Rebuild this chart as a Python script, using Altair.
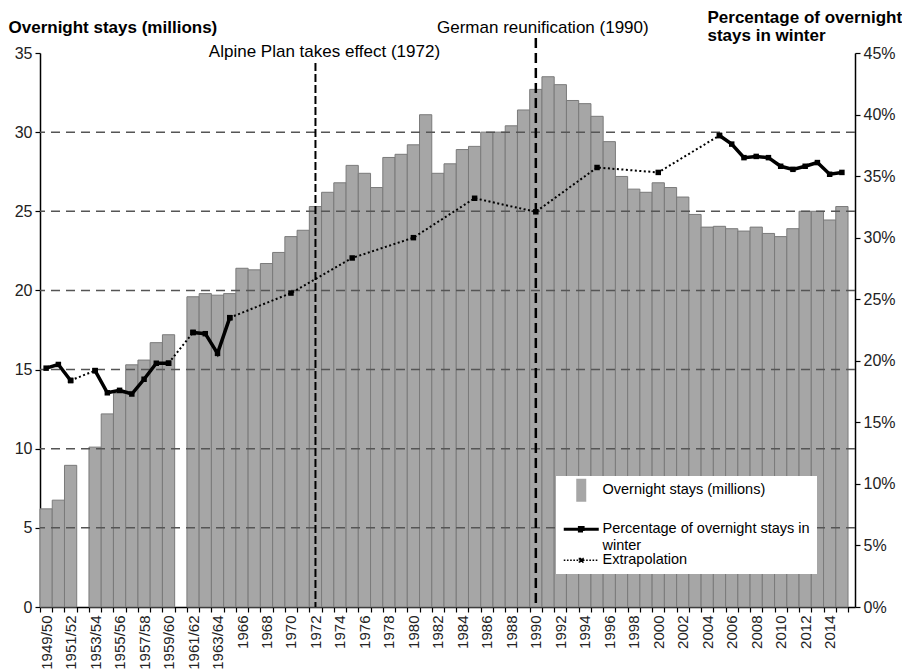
import altair as alt
import pandas as pd

FONT = "Liberation Sans"

# ---------------- data ----------------
categories = ["1949/50", "1950/51", "1951/52", "1952/53", "1953/54", "1954/55",
              "1955/56", "1956/57", "1957/58", "1958/59", "1959/60", "1960/61",
              "1961/62", "1962/63", "1963/64", "1965"] + [str(y) for y in range(1966, 2016)]

stays = [6.2, 6.75, 8.95, None, 10.1, 12.2, 13.5, 15.3, 15.6, 16.7, 17.2, None,
         19.6, 19.8, 19.7, 19.8,
         21.4, 21.3, 21.7, 22.4, 23.4, 23.8, 25.3, 26.2, 26.8, 27.9,
         27.4, 26.5, 28.4, 28.6, 29.2, 31.1, 27.4, 28.0, 28.9, 29.1,
         30.0, 30.0, 30.4, 31.4, 32.7, 33.5, 33.0, 32.0, 31.8, 31.0,
         29.4, 27.2, 26.4, 26.2, 26.8, 26.5, 25.9, 24.8, 24.0, 24.05,
         23.9, 23.75, 24.0, 23.6, 23.4, 23.9, 25.0, 25.0, 24.45, 25.3]

winter_cats = ["1949/50", "1950/51", "1951/52",
               "1953/54", "1954/55", "1955/56", "1956/57", "1957/58", "1958/59", "1959/60",
               "1961/62", "1962/63", "1963/64", "1965",
               "2005", "2006", "2007", "2008", "2009", "2010", "2011", "2012", "2013", "2014", "2015"]
winter_pct = [19.4, 19.7, 18.4,
              19.2, 17.4, 17.6, 17.3, 18.5, 19.8, 19.8,
              22.3, 22.2, 20.6, 23.5,
              38.3, 37.6, 36.5, 36.6, 36.5, 35.8, 35.55, 35.8, 36.1, 35.15, 35.3]
winter_seg = [1, 1, 1, 2, 2, 2, 2, 2, 2, 2, 3, 3, 3, 3,
              4, 4, 4, 4, 4, 4, 4, 4, 4, 4, 4]

extrap_cats = ["1951/52", "1953/54", "1959/60", "1961/62", "1965", "1970", "1975",
               "1980", "1985", "1990", "1995", "2000", "2005"]
extrap_pct = [18.4, 19.2, 19.8, 22.3, 23.5, 25.5, 28.35, 30.0, 33.2, 32.1, 35.7, 35.3, 38.3]
extrap_seg = [1, 1, 2, 2, 3, 3, 3, 3, 3, 3, 3, 3, 3]

grid_values = [5, 10, 15, 20, 25, 30]
left_ticks = [0, 5, 10, 15, 20, 25, 30, 35]
right_ticks = [0, 5, 10, 15, 20, 25, 30, 35, 40, 45]

legend_labels = ["Overnight stays (millions)",
                 "Percentage of overnight stays in winter",
                 "Extrapolation"]

event_cats = ["1972", "1990"]
event_labels = ["Alpine Plan takes effect (1972)", "German reunification (1990)"]

# ---------------- frames ----------------
order = {c: i for i, c in enumerate(categories)}
bars_df = pd.DataFrame({"cat": categories, "stays": stays}).dropna()

winter_df = pd.DataFrame({"cat": winter_cats, "pct": winter_pct, "seg": winter_seg})
winter_df["idx"] = winter_df["cat"].map(order)
winter_df["series"] = legend_labels[1]
extrap_df = pd.DataFrame({"cat": extrap_cats, "pct": extrap_pct, "seg": extrap_seg})
extrap_df["idx"] = extrap_df["cat"].map(order)

shown = categories[::2]
shown_js = "[" + ",".join("'" + s + "'" for s in shown) + "]"

# ---------------- scales / axes ----------------
x_scale = alt.Scale(domain=categories, paddingInner=0, paddingOuter=0.285, align=0)
x_axis = alt.Axis(title=None, labelAngle=-90, labelFontSize=15, labelColor="#222",
                  labelPadding=3, tickBand="extent", tickSize=5, tickColor="black",
                  tickWidth=1.2, domainColor="black", domainWidth=1.5,
                  labelExpr="indexof(" + shown_js + ", datum.value) >= 0 ? datum.label : ''")

yl_scale = alt.Scale(domain=[0, 35], nice=False)
yl_axis = alt.Axis(values=left_ticks, grid=False, tickSize=5, tickColor="black",
                   tickWidth=1.2, domainColor="black", domainWidth=1.5,
                   labelFontSize=16, labelColor="#222", labelPadding=3,
                   title="Overnight stays (millions)", titleAngle=0, titleAlign="left",
                   titleBaseline="alphabetic", titleX=-32, titleY=-21,
                   titleFontSize=17, titleFontWeight="bold", titleColor="black")

yr_scale = alt.Scale(domain=[0, 45], nice=False)
yr_axis = alt.Axis(orient="right", values=right_ticks, labelExpr="datum.value + '%'",
                   grid=False, tickSize=5, tickColor="black", tickWidth=1.2,
                   domainColor="black", domainWidth=1.5,
                   labelFontSize=16, labelColor="#222", labelPadding=3,
                   title=["Percentage of overnight", "stays in winter"], titleAngle=0,
                   titleAlign="left", titleBaseline="alphabetic", titleX=-148, titleY=-31,
                   titleLineHeight=18, titleFontSize=17, titleFontWeight="bold",
                   titleColor="black")

BAR_PATH = "M0,-0.66V0.66"
LINE_PATH = "M-1,0H1M-0.1,-0.1H0.1V0.1H-0.1Z"
is_bar = "datum.value === 'Overnight stays (millions)'"
is_ext = "datum.value === 'Extrapolation'"

legend = alt.Legend(
    title=None, orient="none", legendX=516, legendY=423,
    fillColor="white", padding=7, labelFont=FONT, labelFontSize=14.5,
    labelColor="black", labelOffset=14, symbolOffset=11, symbolSize=1225,
    rowPadding=-8, labelLimit=400, symbolOpacity=1,
    labelExpr="datum.label === 'Percentage of overnight stays in winter' ? "
              "['Percentage of overnight stays in', 'winter'] : datum.label",
    symbolType={"expr": is_bar + " ? '" + BAR_PATH + "' : '" + LINE_PATH + "'"},
    symbolStrokeWidth={"expr": is_bar + " ? 10 : (" + is_ext + " ? 1.6 : 3.2)"},
    symbolDash={"expr": is_ext + " ? [1.6, 1.6] : [1, 0]"},
    symbolFillColor="black",
)

color_scale = alt.Scale(domain=legend_labels, range=["#a6a6a6", "black", "black"])

X = alt.X("cat:N", scale=x_scale, axis=x_axis)

# ---------------- left group ----------------
bars = alt.Chart(bars_df).mark_bar(fill="#a6a6a6", stroke="#7a7a7a", strokeWidth=1).encode(
    x=X,
    y=alt.Y("stays:Q", scale=yl_scale, axis=yl_axis),
)

grid = alt.Chart(pd.DataFrame({"v": grid_values})).mark_rule(
    color="#555", strokeWidth=1.5, strokeDash=[9, 6]
).encode(y=alt.Y("v:Q", scale=yl_scale, axis=yl_axis))

rule1972 = alt.Chart(pd.DataFrame({"cat": [event_cats[0]]})).mark_rule(
    color="black", strokeWidth=2, strokeDash=[8, 3]
).encode(x=X, y=alt.YDatum(34.37, scale=yl_scale, axis=yl_axis), y2=alt.Y2Datum(0))

rule1990 = alt.Chart(pd.DataFrame({"cat": [event_cats[1]]})).mark_rule(
    color="black", strokeWidth=2.5, strokeDash=[10, 5]
).encode(x=X, y=alt.YDatum(35.95, scale=yl_scale, axis=yl_axis), y2=alt.Y2Datum(0))

text1972 = alt.Chart(pd.DataFrame({"cat": [event_cats[0]], "t": [event_labels[0]]})).mark_text(
    font=FONT, fontSize=17, color="black", align="center", baseline="alphabetic", dx=9
).encode(x=X, y=alt.YDatum(34.74, scale=yl_scale, axis=yl_axis), text="t:N")

text1990 = alt.Chart(pd.DataFrame({"cat": [event_cats[1]], "t": [event_labels[1]]})).mark_text(
    font=FONT, fontSize=17, color="black", align="center", baseline="alphabetic", dx=7
).encode(x=X, y=alt.YDatum(36.26, scale=yl_scale, axis=yl_axis), text="t:N")

left = alt.layer(bars, grid, rule1972, rule1990, text1972, text1990)

# ---------------- right group ----------------
YR = alt.Y("pct:Q", scale=yr_scale, axis=yr_axis)

solid_line = alt.Chart(winter_df).mark_line().encode(
    x=X, y=YR, detail="seg:N", order="idx:Q",
    color=alt.Color("series:N", scale=color_scale, legend=legend),
    strokeWidth=alt.value(3.5),
)
solid_pts = alt.Chart(winter_df).mark_square(color="black", size=30, opacity=1).encode(x=X, y=YR)

ext_line = alt.Chart(extrap_df).mark_line(color="black", strokeWidth=2, strokeDash=[2, 2.5]).encode(
    x=X, y=YR, detail="seg:N", order="idx:Q")
ext_pts = alt.Chart(extrap_df).mark_square(color="black", size=30, opacity=1).encode(x=X, y=YR)

right = alt.layer(ext_line, ext_pts, solid_line, solid_pts)

chart = (
    alt.layer(left, right)
    .resolve_scale(y="independent")
    .properties(width=815, height=554, padding=0)
    .configure(font=FONT)
    .configure_view(stroke=None)
    .configure_axis(labelFont=FONT, titleFont=FONT)
)

chart.save("out.html", embed_options={"renderer": "svg", "actions": False})
